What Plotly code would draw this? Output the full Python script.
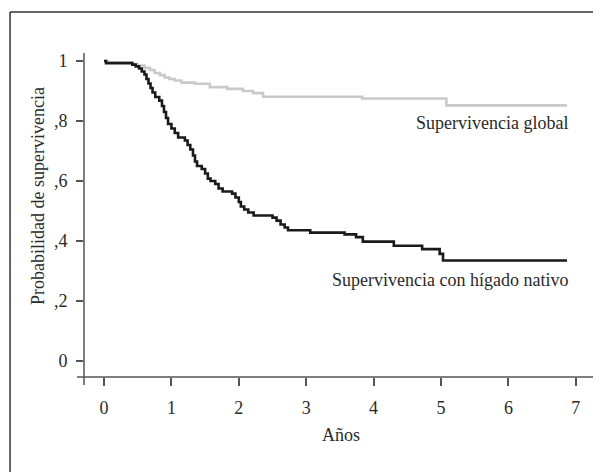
import plotly.graph_objects as go

# Kaplan-Meier estimates (years, survival probability)
global_t = [0, 0.05, 0.42, 0.50, 0.60, 0.68, 0.75, 0.83, 0.90, 0.97, 1.05, 1.15, 1.35,
            1.57, 1.83, 2.06, 2.21, 2.36, 3.83, 5.08, 6.87]
global_s = [1.0, 0.995, 0.99, 0.985, 0.977, 0.97, 0.96, 0.953, 0.945, 0.94, 0.935, 0.928,
            0.924, 0.913, 0.907, 0.900, 0.893, 0.881, 0.875, 0.852, 0.852]

native_t = [0, 0.03, 0.42, 0.47, 0.52, 0.56, 0.60, 0.63, 0.66, 0.69, 0.72, 0.76, 0.82,
            0.86, 0.89, 0.92, 0.95, 1.00, 1.05, 1.10, 1.20, 1.24, 1.28, 1.32, 1.35, 1.38,
            1.45, 1.50, 1.54, 1.58, 1.65, 1.70, 1.76, 1.90, 1.95, 2.00, 2.03, 2.08, 2.14,
            2.22, 2.50, 2.56, 2.62, 2.68, 2.73, 3.06, 3.57, 3.74, 3.84, 4.30, 4.72, 4.98,
            5.03, 6.87]
native_s = [1.0, 0.993, 0.988, 0.982, 0.975, 0.965, 0.955, 0.94, 0.925, 0.91, 0.895, 0.88,
            0.868, 0.85, 0.83, 0.81, 0.79, 0.775, 0.76, 0.745, 0.735, 0.72, 0.705, 0.685,
            0.665, 0.65, 0.64, 0.625, 0.608, 0.60, 0.59, 0.575, 0.565, 0.558, 0.545, 0.53,
            0.515, 0.505, 0.495, 0.485, 0.478, 0.468, 0.455, 0.445, 0.436, 0.428, 0.422,
            0.413, 0.398, 0.384, 0.373, 0.357, 0.335, 0.335]

x_ticks = [0, 1, 2, 3, 4, 5, 6, 7]
y_ticks = [0, 0.2, 0.4, 0.6, 0.8, 1.0]
y_tick_text = ["0", ",2", ",4", ",6", ",8", "1"]

FONT = "Liberation Serif, Times New Roman, serif"
AX = "#555555"

fig = go.Figure()
fig.add_trace(go.Scatter(x=global_t, y=global_s, mode="lines", line_shape="hv",
                         line=dict(color="#c9c9c9", width=2.6), showlegend=False,
                         hoverinfo="skip"))
fig.add_trace(go.Scatter(x=native_t, y=native_s, mode="lines", line_shape="hv",
                         line=dict(color="#1a1a1a", width=2.6), showlegend=False,
                         hoverinfo="skip"))

fig.update_layout(
    width=593, height=464,
    margin=dict(l=76, r=7, t=35, b=95),
    paper_bgcolor="white", plot_bgcolor="white",
    font=dict(family=FONT, color="#2a2a2a", size=18),
    xaxis=dict(range=[-0.297, 7.27], tickvals=x_ticks, ticks="outside", ticklen=8,
               tickwidth=1.5, tickcolor=AX, showline=False, showgrid=False,
               zeroline=False, ticklabelstandoff=6, fixedrange=True),
    yaxis=dict(range=[-0.0533, 1.06], tickvals=y_ticks, ticktext=y_tick_text,
               ticks="outside", ticklen=7, tickwidth=1.5, tickcolor=AX, mirror="ticks",
               showline=False, showgrid=False, zeroline=False, ticklabelstandoff=5,
               fixedrange=True),
    shapes=[
        # left y axis line
        dict(type="line", xref="paper", yref="paper", x0=0, x1=0, y0=-0.024, y1=0.970,
             line=dict(color=AX, width=1.5)),
        # right axis line
        dict(type="line", xref="paper", yref="paper", x0=1, x1=1, y0=-0.027, y1=1.0,
             line=dict(color="#8c8c8c", width=1.8)),
        # x axis line
        dict(type="line", xref="paper", yref="paper", x0=-0.0137, x1=1, y0=0, y1=0,
             line=dict(color=AX, width=1.5)),
        # outer frame
        dict(type="line", xref="paper", yref="paper", x0=-0.145, x1=-0.145, y0=-0.3,
             y1=1.093, line=dict(color="#333333", width=1.5)),
        dict(type="line", xref="paper", yref="paper", x0=-0.145, x1=1.05, y0=1.093,
             y1=1.093, line=dict(color="#333333", width=1.5)),
    ],
    annotations=[
        dict(text="Supervivencia global", x=(570 - 84) / 510, y=(377 - 123) / 334,
             xref="paper", yref="paper", xanchor="right", yanchor="middle",
             showarrow=False),
        dict(text="Supervivencia con hígado nativo", x=(570 - 84) / 510,
             y=(377 - 280) / 334, xref="paper", yref="paper", xanchor="right",
             yanchor="middle", showarrow=False),
        dict(text="Años", x=(341 - 84) / 510, y=(377 - 435) / 334, xref="paper",
             yref="paper", xanchor="center", yanchor="middle", showarrow=False),
        dict(text="Probabilidad de supervivencia", x=(38 - 84) / 510,
             y=(377 - 196) / 334, xref="paper", yref="paper", xanchor="center",
             yanchor="middle", textangle=-90, showarrow=False),
    ],
)

fig.write_html("out.html")
